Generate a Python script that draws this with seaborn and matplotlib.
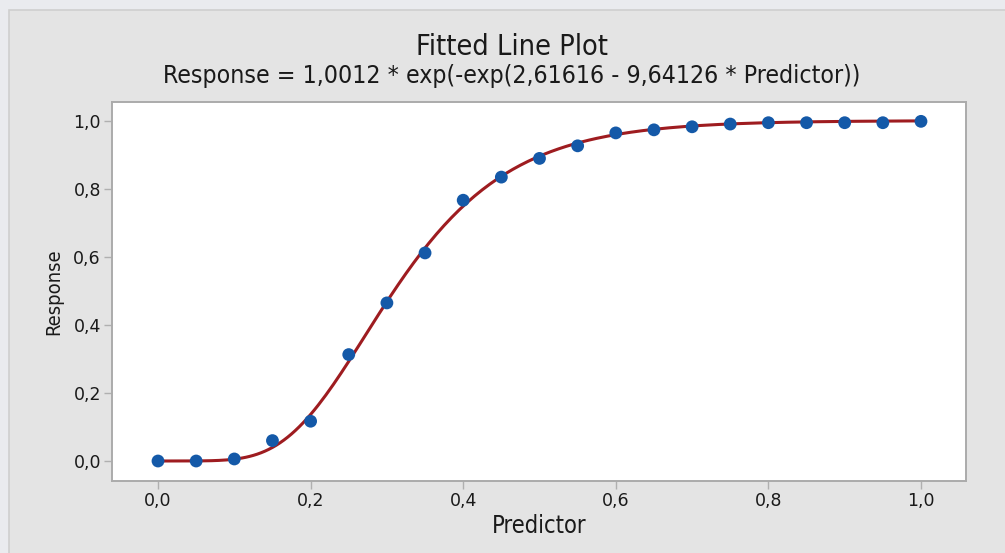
import numpy as np
import pandas as pd
import matplotlib
matplotlib.use("Agg")
import matplotlib.pyplot as plt
from matplotlib.patches import Rectangle
import seaborn as sns

# ---- data ----
predictor = [0.00, 0.05, 0.10, 0.15, 0.20, 0.25, 0.30, 0.35, 0.40, 0.45, 0.50,
             0.55, 0.60, 0.65, 0.70, 0.75, 0.80, 0.85, 0.90, 0.95, 1.00]
response = [0.000, 0.000, 0.006, 0.060, 0.117, 0.313, 0.465, 0.612, 0.767, 0.835, 0.890,
            0.927, 0.965, 0.974, 0.983, 0.991, 0.995, 0.995, 0.995, 0.995, 0.999]
# fitted Gompertz coefficients shown in the subtitle
coef_a = 1.0012
coef_b = 2.61616
coef_c = 9.64126
xticks = [0.0, 0.2, 0.4, 0.6, 0.8, 1.0]
xtick_labels = ["0,0", "0,2", "0,4", "0,6", "0,8", "1,0"]
yticks = [0.0, 0.2, 0.4, 0.6, 0.8, 1.0]
ytick_labels = ["0,0", "0,2", "0,4", "0,6", "0,8", "1,0"]
title = "Fitted Line Plot"
subtitle = "Response = 1,0012 * exp(-exp(2,61616 - 9,64126 * Predictor))"

fit_x = np.linspace(0, 1, 201)
fit_y = coef_a * np.exp(-np.exp(coef_b - coef_c * fit_x))
pts = pd.DataFrame({"Predictor": predictor, "Response": response})
fit = pd.DataFrame({"Predictor": fit_x, "Response": fit_y})

sns.set_theme(style="white")
plt.rcParams["font.family"] = ["DejaVu Sans"]

W, H = 1005, 553
fig = plt.figure(figsize=(W / 100, H / 100), dpi=100)
fig.patch.set_facecolor("#EAEBEF")
bg = Rectangle((9 / W, -0.01), 1 - 9 / W + 0.01, 1 - 10 / H + 0.01,
               transform=fig.transFigure, facecolor="#E4E4E4",
               edgecolor="#CFCFCF", linewidth=1.2, zorder=-5)
fig.patches.append(bg)

ax = fig.add_axes([112 / W, 1 - 481 / H, (966 - 112) / W, (481 - 102) / H])
ax.set_zorder(2)
ax.set_facecolor("white")

sns.lineplot(data=fit, x="Predictor", y="Response", ax=ax, color="#9E1C20",
             linewidth=2.2, zorder=2)
sns.scatterplot(data=pts, x="Predictor", y="Response", ax=ax, color="#1459A8",
                s=85, edgecolor="none", zorder=3)

ax.set_xlim(-0.0603, 1.059)
ax.set_ylim(-0.0588, 1.0559)
ax.set_xticks(xticks)
ax.set_xticklabels(xtick_labels)
ax.set_yticks(yticks)
ax.set_yticklabels(ytick_labels)
ax.tick_params(axis="both", which="major", length=6, width=1, color="#B0B0B0",
               labelsize=12.5, labelcolor="#1A1A1A", direction="out", pad=2)
ax.tick_params(axis="both", bottom=True, left=True)
for s in ax.spines.values():
    s.set_color("#ABABAB")
    s.set_linewidth(1.4)

ax.set_xlabel("Predictor", fontsize=17, fontstretch="condensed", color="#1A1A1A", labelpad=3)
ax.set_ylabel("Response", fontsize=14.5, fontstretch="condensed", color="#1A1A1A", labelpad=7)

cx = 512 / W
fig.text(cx, 1 - 47 / H, title, ha="center", va="center", fontsize=20.7,
         fontstretch="condensed", color="#1A1A1A")
fig.text(cx, 1 - 76 / H, subtitle, ha="center", va="center", fontsize=17.8,
         fontstretch="condensed", color="#1A1A1A")

fig.savefig("out.png", dpi=100, facecolor=fig.get_facecolor())
